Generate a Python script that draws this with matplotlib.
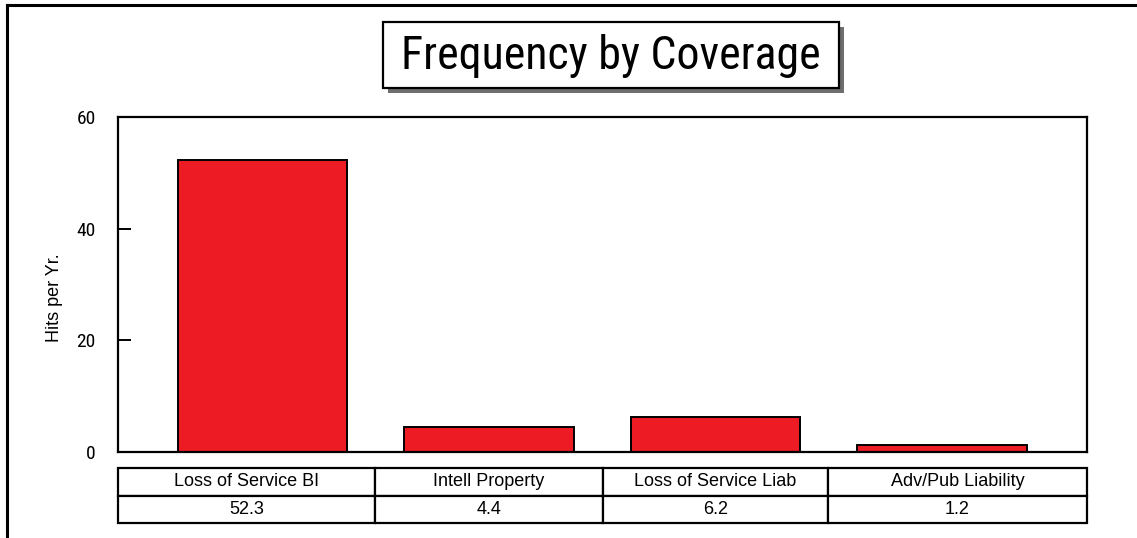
import matplotlib
matplotlib.use("Agg")
import matplotlib.pyplot as plt
from matplotlib.patches import Rectangle
from matplotlib.lines import Line2D

# Data
categories = ["Loss of Service BI", "Intell Property", "Loss of Service Liab", "Adv/Pub Liability"]
hits_per_year = [52.3, 4.4, 6.2, 1.2]
y_ticks = [0, 20, 40, 60]

NARROW = ["Roboto Condensed", "Liberation Sans", "DejaVu Sans"]
PLAIN = ["Liberation Sans", "DejaVu Sans"]
BAR_RED = "#ED1C24"

W, H = 1137, 538
fig = plt.figure(figsize=(W / 100, H / 100), dpi=100)
fig.patch.set_facecolor("white")


def fx(px):
    return px / W


def fy(py):
    return 1 - py / H


# Outer frame (top and left edges)
fig.add_artist(Line2D([fx(7), 1.0], [fy(5), fy(5)], color="black", lw=2.2))
fig.add_artist(Line2D([fx(7), fx(7)], [fy(5), 0.0], color="black", lw=2.2))

# Title box with drop shadow
bx0, bx1, by0, by1 = 383, 839, 22, 88
fig.add_artist(Rectangle((fx(bx0 + 5), fy(by1 + 5)), fx(bx1 - bx0), (by1 - by0) / H,
                         facecolor="#6e6e6e", edgecolor="none"))
fig.add_artist(Rectangle((fx(bx0), fy(by1)), fx(bx1 - bx0), (by1 - by0) / H,
                         facecolor="white", edgecolor="black", lw=1.6))
fig.text(fx((bx0 + bx1) / 2), fy(56), "Frequency by Coverage", family=NARROW,
         fontsize=33, ha="center", va="center", color="black")

# Main axes
ax_left, ax_right, ax_top, ax_bottom = 118, 1087, 117, 452
ax = fig.add_axes([fx(ax_left), fy(ax_bottom), fx(ax_right - ax_left),
                   (ax_bottom - ax_top) / H])

x = list(range(len(categories)))
ax.bar(x, hits_per_year, width=0.75, color=BAR_RED, edgecolor="black", linewidth=1.4)
ax.set_xlim(-0.638, 3.64)
ax.set_ylim(0, 60)
ax.set_xticks([])
ax.set_yticks(y_ticks)
ax.set_yticklabels([str(t) for t in y_ticks], family=NARROW, fontsize=14)
ax.tick_params(axis="y", direction="in", length=9, width=1.4, pad=16)
for s in ax.spines.values():
    s.set_linewidth(1.6)
ax.set_ylabel("Hits per Yr.", fontsize=13, family=PLAIN)
ax.yaxis.set_label_coords(-0.057, 0.46)

# Data table under the plot
col_px = [257, 228, 225, 259]
total = sum(col_px)
col_widths = [c / total for c in col_px]
cell_text = [categories, [f"{v:.1f}" for v in hits_per_year]]
tb_top, tb_bottom = 468, 523
span = ax_bottom - ax_top
table = ax.table(cellText=cell_text, colWidths=col_widths, cellLoc="center",
                 bbox=[0, -(tb_bottom - ax_bottom) / span, 1,
                       (tb_bottom - tb_top) / span])
table.auto_set_font_size(False)
for (r, c), cell in table.get_celld().items():
    cell.set_linewidth(1.6)
    cell.set_edgecolor("black")
    cell.get_text().set_fontsize(13)
    cell.get_text().set_fontfamily(PLAIN)

fig.savefig("out.png", dpi=100, facecolor="white")
